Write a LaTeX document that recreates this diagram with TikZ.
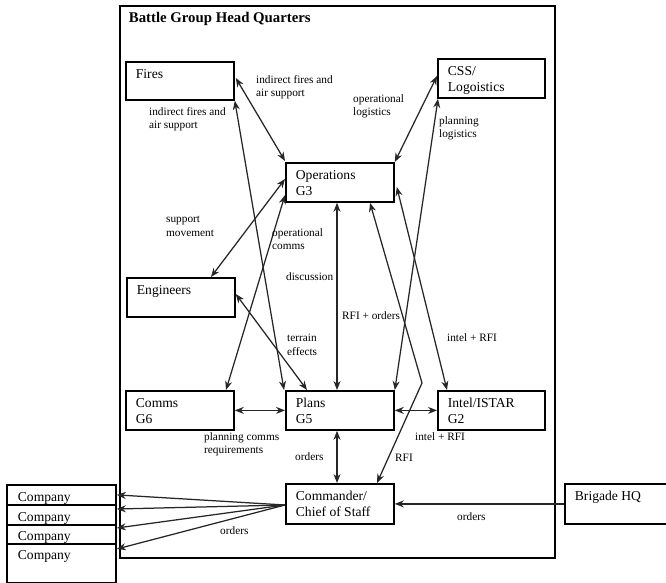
\documentclass[tikz,border=0pt]{standalone}
\usepackage{fontspec}
\setmainfont{Liberation Serif}
\usetikzlibrary{arrows.meta,calc}
\tikzset{
  boxnode/.style={draw, line width=1.8pt, inner sep=0pt, anchor=north west,
    font=\fontsize{13.6}{16}\selectfont},
  lbl/.style={inner sep=0pt, anchor=west, align=left,
    font=\fontsize{11.3}{13.5}\selectfont},
  tipx/.tip={Stealth[length=9pt,width=7pt]},
  conn/.style={line width=1.25pt, draw=black!85, tipx-tipx},
  connone/.style={line width=1.25pt, draw=black!85, -tipx},
}
\newcommand{\boxtxt}[3]{\parbox[t][#2pt][t]{#1pt}{\leftskip=10pt\rule{0pt}{17pt}#3}}
\begin{document}
\begin{tikzpicture}[x=1pt,y=-1pt]
\useasboundingbox (0,0) rectangle (666,583);
% outer headquarters box
\node[boxnode] (hq) at (119,5)
  {\parbox[t][552pt][t]{435pt}{\leftskip=9pt\fontsize{14.8}{17}\selectfont\bfseries\rule{0pt}{17pt}Battle Group Head Quarters}};
% boxes
\node[boxnode] (fires) at (125,61) {\boxtxt{108}{38}{Fires}};
\node[boxnode] (css) at (437,58) {\boxtxt{107}{39}{CSS/\\Logoistics}};
\node[boxnode] (ops) at (285,162) {\boxtxt{108}{39}{Operations\\G3}};
\node[boxnode] (eng) at (126,277) {\boxtxt{108}{39}{Engineers}};
\node[boxnode] (comms) at (125,390) {\boxtxt{108}{39}{Comms\\G6}};
\node[boxnode] (plans) at (285,390) {\boxtxt{108}{39}{Plans\\G5}};
\node[boxnode] (intel) at (437,390) {\boxtxt{107}{39}{Intel/ISTAR\\G2}};
\node[boxnode] (cmd) at (285,483) {\boxtxt{108}{40}{Commander/\\Chief of Staff}};
\node[boxnode] (brig) at (564,483) {\boxtxt{130}{40}{Brigade HQ}};
\node[boxnode] (comp1) at (6,484) {\parbox[t][20pt][t]{109pt}{\leftskip=11pt\rule{0pt}{17pt}Company}};
\node[boxnode] (comp2) at (6,504) {\parbox[t][20pt][t]{109pt}{\leftskip=11pt\rule{0pt}{17pt}Company}};
\node[boxnode] (comp3) at (6,524) {\parbox[t][19pt][t]{109pt}{\leftskip=11pt\rule{0pt}{16pt}Company}};
\node[boxnode] (comp4) at (6,543) {\parbox[t][39pt][t]{109pt}{\leftskip=11pt\rule{0pt}{16pt}Company}};
\coordinate (bend) at (422,383);
% connectors
\draw[conn] ([shift={(1,17)}]fires.north east) -- ([shift={(0,-1)}]ops.north west);
\draw[conn] (fires.south east) -- ([shift={(-1,0)}]plans.north west);
\draw[conn] ([shift={(0,18)}]css.north west) -- (ops.north east);
\draw[conn] ([shift={(1,0)}]css.south west) -- (plans.north east);
\draw[conn] ([shift={(0,17)}]ops.north west) -- ([shift={(85,0)}]eng.north west);
\draw[conn] ([shift={(0,33)}]ops.north west) -- ([shift={(101,0)}]comms.north west);
\draw[conn] ([shift={(52,0)}]ops.south west) -- ([shift={(52,0)}]plans.north west);
\draw[conn] ([shift={(2,25)}]ops.north east) -- ([shift={(10,0)}]intel.north west);
\draw[conn] ([shift={(85,0)}]ops.south west) -- (bend) -- ([shift={(92,0)}]cmd.north west);
\draw[conn] ([shift={(0,17)}]eng.north east) -- ([shift={(22,0)}]plans.north west);
\draw[conn] (comms.east) -- (plans.west);
\draw[conn] (plans.east) -- (intel.west);
\draw[conn] ([shift={(52,0)}]plans.south west) -- ([shift={(52,0)}]cmd.north west);
\draw[connone] (brig.west) -- (cmd.east);
\draw[connone] ([shift={(0,22)}]cmd.north west) -- (comp1.east);
\draw[connone] ([shift={(0,22)}]cmd.north west) -- ([shift={(0,5)}]comp2.north east);
\draw[connone] ([shift={(0,22)}]cmd.north west) -- ([shift={(0,4)}]comp3.north east);
\draw[connone] ([shift={(0,22)}]cmd.north west) -- ([shift={(0,6)}]comp4.north east);
% labels
\node[lbl] (l1) at (256,87) {indirect fires and\\air support};
\node[lbl] (l2) at (149,119) {indirect fires and\\air support};
\node[lbl] (l3) at (353,106.5) {operational\\logistics};
\node[lbl] (l4) at (439,128.5) {planning\\logistics};
\node[lbl] (l5) at (166,226.5) {support\\movement};
\node[lbl] (l6) at (272,239) {operational\\comms};
\node[lbl] (l7) at (286,277) {discussion};
\node[lbl] (l8) at (342,316) {RFI + orders};
\node[lbl] (l9) at (447,338) {intel + RFI};
\node[lbl] (l10) at (287,345) {terrain\\effects};
\node[lbl] (l11) at (204,444.5) {planning comms\\requirements};
\node[lbl] (l12) at (295,457) {orders};
\node[lbl] (l13) at (395,458) {RFI};
\node[lbl] (l14) at (415,437) {intel + RFI};
\node[lbl] (l15) at (457,517) {orders};
\node[lbl] (l16) at (220,531) {orders};
\end{tikzpicture}
\end{document}
